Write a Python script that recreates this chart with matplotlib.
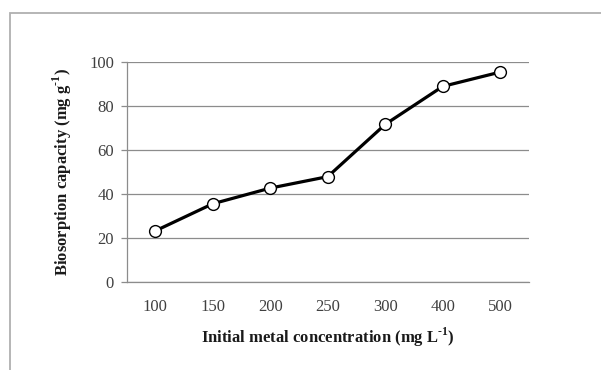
import matplotlib
matplotlib.use("Agg")
import matplotlib.pyplot as plt
from matplotlib.patches import Rectangle

categories = ["100", "150", "200", "250", "300", "400", "500"]
capacity = [23.3, 35.6, 42.7, 47.9, 71.6, 88.8, 95.3]
y_ticks = [0, 20, 40, 60, 80, 100]

plt.rcParams['font.family'] = ['Liberation Serif', 'DejaVu Serif']
plt.rcParams['mathtext.fontset'] = 'custom'
plt.rcParams['mathtext.rm'] = 'Liberation Serif'
plt.rcParams['mathtext.bf'] = 'Liberation Serif:bold'

W, H = 601, 370
fig = plt.figure(figsize=(W / 100, H / 100), dpi=100)
fig.patch.set_facecolor('white')

# outer chart border (clipped at right and bottom)
fig.add_artist(Rectangle((10.5 / W, -0.1), 1.2, (H - 13.5) / H + 0.1,
                         transform=fig.transFigure, fill=False,
                         edgecolor='#b0b0b0', linewidth=1.3))

left, right, top, bottom = 126.5, 529, 61.7, 282.3
ax = fig.add_axes([left / W, 1 - bottom / H, (right - left) / W, (bottom - top) / H])

x = list(range(len(categories)))
ax.plot(x, capacity, color='black', linewidth=2.3, marker='o', markersize=8.5,
        markerfacecolor='white', markeredgecolor='black', markeredgewidth=1.0,
        zorder=3)

ax.set_xlim(-0.5, len(categories) - 0.5)
ax.set_ylim(0, 100)
ax.set_xticks(x)
ax.set_xticklabels(categories)
ax.set_yticks(y_ticks)

ax.yaxis.grid(True, color='#8c8c8c', linewidth=0.9)
ax.set_axisbelow(True)
for s in ['top', 'right']:
    ax.spines[s].set_visible(False)
for s in ['left', 'bottom']:
    ax.spines[s].set_color('#8c8c8c')
    ax.spines[s].set_linewidth(0.9)

ax.tick_params(axis='y', length=4, width=0.9, color='#8c8c8c', labelcolor='#404040',
               labelsize=12, pad=5)
ax.tick_params(axis='x', length=0, labelcolor='#404040', labelsize=12, pad=12)

ax.set_xlabel('Initial metal concentration (mg L$^{\\mathbf{\\text{-}1}}$)', fontsize=12,
              fontweight='bold', color='#1a1a1a', labelpad=8)
ax.set_ylabel('Biosorption capacity (mg g$^{\\mathbf{\\text{-}1}}$)', fontsize=12,
              fontweight='bold', color='#1a1a1a', labelpad=11)

fig.savefig('out.png', dpi=100, facecolor='white')
